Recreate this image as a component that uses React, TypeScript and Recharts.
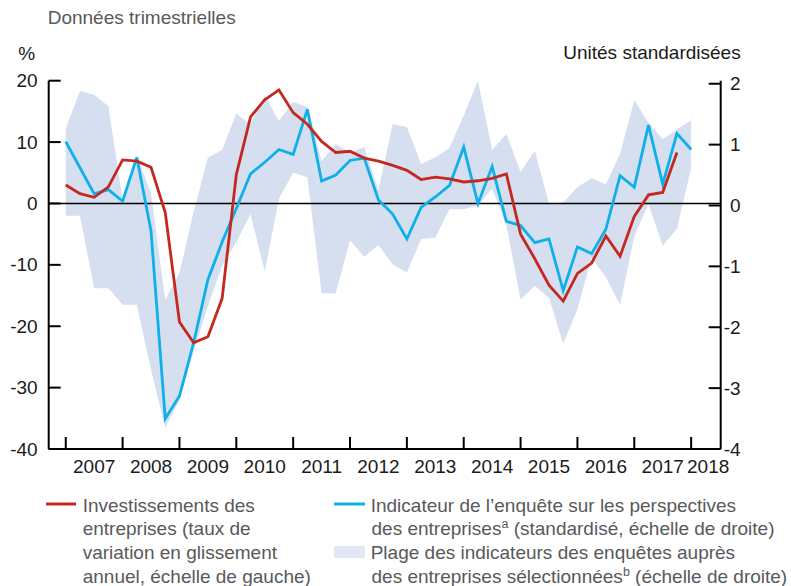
import React from 'react';
import { ComposedChart, Line, Area, XAxis, YAxis, ReferenceLine } from 'recharts';

const startYear = 2007;
const yearLabels = [2007, 2008, 2009, 2010, 2011, 2012, 2013, 2014, 2015, 2016, 2017, 2018];
const leftTicks = [-40, -30, -20, -10, 0, 10, 20];
const rightTicks = [-4, -3, -2, -1, 0, 1, 2];

// Investissements des entreprises (% , left scale), quarterly from 2007T1
const investment = [
  3.0, 1.6, 1.0, 2.7, 7.1, 6.9, 5.9, -1.5, -19.3, -22.7, -21.7, -15.5,
  4.7, 14.1, 16.9, 18.5, 14.8, 12.9, 10.1, 8.3, 8.5, 7.4, 6.9, 6.2,
  5.4, 3.9, 4.3, 4.0, 3.5, 3.7, 4.1, 4.8, -5.0, -9.0, -13.3, -15.9,
  -11.4, -9.7, -5.3, -8.6, -2.1, 1.4, 1.8, 8.3,
];

// Indicateur de l'enquête (standardized units, right scale)
const surveyIndicator = [
  1.05, 0.62, 0.19, 0.26, 0.07, 0.79, -0.42, -3.5, -3.13, -2.25, -1.22, -0.6,
  -0.05, 0.52, 0.71, 0.92, 0.84, 1.58, 0.4, 0.5, 0.74, 0.78, 0.09, -0.14,
  -0.55, -0.03, 0.14, 0.33, 0.96, 0.03, 0.64, -0.26, -0.33, -0.61, -0.55, -1.4,
  -0.68, -0.79, -0.39, 0.49, 0.3, 1.32, 0.35, 1.18, 0.92,
];

// Plage des indicateurs (standardized units, right scale)
const rangeLow = [
  -0.17, -0.17, -1.36, -1.36, -1.63, -1.63, -2.7, -3.65, -3.2, -2.4, -1.65, -1.0,
  -0.6, -0.14, -1.09, 0.11, 0.54, 0.46, -1.44, -1.44, -0.57, -0.84, -0.65, -0.97,
  -1.1, -0.55, -0.53, -0.06, -0.06, 0.0, 0.28, -0.32, -1.55, -1.32, -1.52, -2.27,
  -1.7, -0.86, -1.18, -1.63, -0.5, 0.02, -0.66, -0.38, 0.62,
];
const rangeHigh = [
  1.27, 1.88, 1.82, 1.63, 0.1, 0.82, 0.2, -1.55, -1.11, -0.1, 0.79, 0.91,
  1.51, 1.33, 1.81, 1.39, 1.7, 1.62, 0.73, 1.01, 0.87, 0.96, 0.25, 1.34,
  1.29, 0.68, 0.79, 0.95, 1.48, 2.05, 0.91, 1.18, 0.55, 0.9, 0.03, 0.05,
  0.3, 0.45, 0.35, 0.85, 1.73, 1.36, 1.09, 1.25, 1.4,
];

const data = surveyIndicator.map((v, i) => ({
  x: startYear + i / 4,
  inv: i < investment.length ? investment[i] : null,
  bos: v,
  band: [rangeLow[i], rangeHigh[i]],
}));

// tick marks at year starts, labels centred within each year
const xTicks: number[] = [];
yearLabels.forEach((y, i) => {
  xTicks.push(y);
  xTicks.push(i === yearLabels.length - 1 ? y + 0.3 : y + 0.5);
});

const FONT = '"Liberation Sans", Arial, Helvetica, sans-serif';
const FS = 19;
const RED = '#c4281f';
const BLUE = '#0db0e8';
const BAND = '#d5dff0';
const BAND_LEGEND = '#e1e8f4';
const GRAY = '#58595b';
const DARK = '#1a1a1a';

const LeftTick = (props: any) => {
  const { x, y, payload } = props;
  return (
    <g>
      <line x1={x + 11} x2={x + 23} y1={y} y2={y} stroke="#000" strokeWidth={2} />
      <text x={x} y={y} dy={6.5} textAnchor="end" fontSize={FS} fontFamily={FONT} fill={DARK}>
        {payload.value}
      </text>
    </g>
  );
};

const RightTick = (props: any) => {
  const { x, y, payload } = props;
  return (
    <g>
      <line x1={x - 20} x2={x - 32} y1={y} y2={y} stroke="#000" strokeWidth={2} />
      <text x={x} y={y} dy={6.5} textAnchor="end" fontSize={FS} fontFamily={FONT} fill={DARK}>
        {payload.value}
      </text>
    </g>
  );
};

const BottomTick = (props: any) => {
  const { x, y, payload } = props;
  const v = payload.value as number;
  if (Number.isInteger(v)) {
    return <line x1={x} x2={x} y1={y} y2={y - 12} stroke="#000" strokeWidth={2} />;
  }
  return (
    <text x={x} y={y} dy={24.3} textAnchor="middle" fontSize={FS} fontFamily={FONT} fill={DARK}>
      {Math.floor(v)}
    </text>
  );
};

export default function App() {
  return (
    <div style={{ position: 'absolute', left: 0, top: 0, width: 791, height: 586, background: '#fff', fontFamily: FONT }}>
      <ComposedChart
        width={791}
        height={586}
        data={data}
        margin={{ top: 80.7, right: 0, bottom: 0, left: 0 }}
      >
        <XAxis
          type="number"
          dataKey="x"
          domain={[2006.7, 2018.52]}
          allowDataOverflow
          ticks={xTicks}
          interval={0}
          tickLine={false}
          tickSize={0}
          tickMargin={0}
          axisLine={{ stroke: '#000', strokeWidth: 2 }}
          tick={<BottomTick />}
          height={137}
        />
        <YAxis
          yAxisId="left"
          orientation="left"
          domain={[-40, 20]}
          ticks={leftTicks}
          interval={0}
          width={48.7}
          tickSize={0}
          tickMargin={11}
          tickLine={false}
          axisLine={{ stroke: '#000', strokeWidth: 2 }}
          tick={<LeftTick />}
        />
        <YAxis
          yAxisId="right"
          orientation="right"
          domain={[-4, 2]}
          ticks={rightTicks}
          interval={0}
          width={70.3}
          tickSize={0}
          tickMargin={20}
          tickLine={false}
          axisLine={{ stroke: '#000', strokeWidth: 2 }}
          tick={<RightTick />}
        />
        <Area
          yAxisId="right"
          dataKey="band"
          type="linear"
          stroke="none"
          fill={BAND}
          fillOpacity={1}
          isAnimationActive={false}
          activeDot={false}
        />
        <ReferenceLine yAxisId="left" y={0} stroke="#000" strokeWidth={1.6} />
        <Line
          yAxisId="right"
          dataKey="bos"
          type="linear"
          stroke={BLUE}
          strokeWidth={2.8}
          dot={false}
          activeDot={false}
          isAnimationActive={false}
        />
        <Line
          yAxisId="left"
          dataKey="inv"
          type="linear"
          stroke={RED}
          strokeWidth={2.8}
          dot={false}
          activeDot={false}
          connectNulls={false}
          isAnimationActive={false}
        />
      </ComposedChart>
      <svg
        width={791}
        height={586}
        style={{ position: 'absolute', left: 0, top: 0, pointerEvents: 'none' }}
        fontFamily={FONT}
        fontSize={FS}
      >
        <text x={47.7} y={24} fill={GRAY}>Données trimestrielles</text>
        <text x={18.3} y={60} fill={DARK}>%</text>
        <text x={740.7} y={59.3} fill={DARK} textAnchor="end">Unités standardisées</text>

        <line x1={46} x2={76} y1={504} y2={504} stroke={RED} strokeWidth={3} />
        <text fill={GRAY}>
          <tspan x={82.7} y={511.7}>Investissements des</tspan>
          <tspan x={82.7} y={535.4}>entreprises (taux de</tspan>
          <tspan x={82.7} y={559}>variation en glissement</tspan>
          <tspan x={82.7} y={582.7}>annuel, échelle de gauche)</tspan>
        </text>

        <line x1={334} x2={365} y1={504} y2={504} stroke={BLUE} strokeWidth={3} />
        <rect x={334} y={546} width={31} height={12} fill={BAND_LEGEND} />
        <text fill={GRAY}>
          <tspan x={370.7} y={511.7}>Indicateur de l’enquête sur les perspectives</tspan>
          <tspan x={371.5} y={535.4}>des entreprises</tspan>
          <tspan dy={-7} fontSize={12.5}>a</tspan>
          <tspan dy={7}> (standardisé, échelle de droite)</tspan>
          <tspan x={370.7} y={559}>Plage des indicateurs des enquêtes auprès</tspan>
          <tspan x={371.5} y={582.7}>des entreprises sélectionnées</tspan>
          <tspan dy={-7} fontSize={12.5}>b</tspan>
          <tspan dy={7}> (échelle de droite)</tspan>
        </text>
      </svg>
    </div>
  );
}
